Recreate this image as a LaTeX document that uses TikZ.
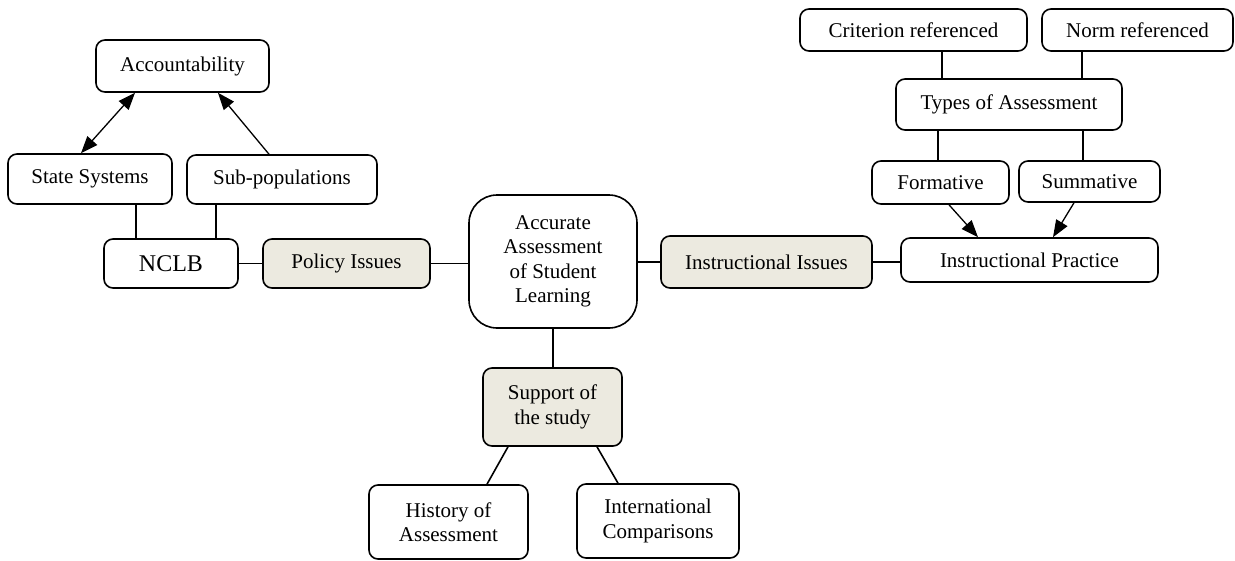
\documentclass[tikz,border=0pt]{standalone}
\usepackage{fontspec}
\setmainfont{Liberation Serif}
\usetikzlibrary{arrows.meta}

\definecolor{issuefill}{RGB}{236,234,224}

\begin{document}
\begin{tikzpicture}
		[
		x=1pt, y=-1pt, line width=1.6pt,
		font=\fontsize{21}{24.5}\selectfont,
		>={Triangle[length=17pt,width=13pt]},
		%Voreinstellung fuer Kaesten
		box/.style={draw, rounded corners=9pt, inner sep=0pt, align=center},
		issue/.style={box, fill=issuefill},
		link/.style={line width=1.6pt},
		pfeil/.style={line width=1.3pt}
		]
		
		%Rahmen des Bildes
		\useasboundingbox (0,0) rectangle (1235,560);
		
		%Mitte
		\node[box, rounded corners=28pt, minimum width=168pt, minimum height=133pt] (core) at (553,261.5) {Accurate\\Assessment\\of Student\\Learning};
		
		%Die drei Themen
		\node[issue, minimum width=167pt, minimum height=49pt] (policy) at (346.5,263.5) {Policy Issues};
		\node[issue, minimum width=211pt, minimum height=52pt] (instr) at (766.5,262) {Instructional Issues};
		\node[issue, minimum width=139pt, minimum height=78pt] (support) at (552.5,407) {Support of\\the study};
		
		%Linke Seite
		\node[box, minimum width=134pt, minimum height=49pt, font=\fontsize{24}{28}\selectfont] (nclb) at (171,263.5) {NCLB};
		\node[box, minimum width=164pt, minimum height=50pt] (state) at (90,179) {State Systems};
		\node[box, minimum width=190pt, minimum height=49pt] (subpop) at (282,179.5) {Sub-populations};
		\node[box, minimum width=173pt, minimum height=52pt] (acc) at (182.5,66) {Accountability};
		
		%Rechte Seite
		\node[box, minimum width=257pt, minimum height=44pt] (practice) at (1029.5,260) {Instructional Practice};
		\node[box, minimum width=137pt, minimum height=43pt] (form) at (940.5,182.5) {Formative};
		\node[box, minimum width=141pt, minimum height=41pt] (summ) at (1089.5,181.5) {Summative};
		\node[box, minimum width=226pt, minimum height=51pt] (types) at (1009,104.5) {Types of Assessment};
		\node[box, minimum width=227pt, minimum height=42pt] (crit) at (913.5,30) {Criterion referenced};
		\node[box, minimum width=191pt, minimum height=42pt] (norm) at (1137.5,30) {Norm referenced};
		
		%Unten
		\node[box, minimum width=159pt, minimum height=74pt] (history) at (448.5,522) {History of\\Assessment};
		\node[box, minimum width=162pt, minimum height=74pt] (intl) at (658,521) {International\\Comparisons};
		
		%Waagerechte Linien
		\draw[link] (nclb.east) -- (policy.west);
		\draw[link] (policy.east) -- (policy.east -| core.west);
		\draw[link] (instr.west -| core.east) -- (instr.west);
		\draw[link] (instr.east) -- (instr.east -| practice.west);
		
		%Linien links
		\draw[link] ([xshift=-35pt]nclb.north) -- ([xshift=-35pt]nclb.north |- state.south);
		\draw[link] ([xshift=45pt]nclb.north) -- ([xshift=45pt]nclb.north |- subpop.south);
		\draw[pfeil, <->] ([xshift=-9pt]state.north) -- ([xshift=-47.5pt]acc.south);
		\draw[pfeil, ->] ([xshift=-13pt]subpop.north) -- ([xshift=35.5pt]acc.south);
		
		%Linien rechts
		\draw[link] ([xshift=28.5pt]crit.south) -- ([xshift=28.5pt]crit.south |- types.north);
		\draw[link] ([xshift=-55.5pt]norm.south) -- ([xshift=-55.5pt]norm.south |- types.north);
		\draw[link] ([xshift=-2.5pt]form.north) -- ([xshift=-2.5pt]form.north |- types.south);
		\draw[link] ([xshift=-6.5pt]summ.north) -- ([xshift=-6.5pt]summ.north |- types.south);
		\draw[pfeil, ->] ([xshift=8.5pt]form.south) -- ([xshift=-51.5pt]practice.north);
		\draw[pfeil, ->] ([xshift=-15.5pt]summ.south) -- ([xshift=23.5pt]practice.north);
		
		%Linien unten
		\draw[link] (core.south) -- (core.south |- support.north);
		\draw[link] ([xshift=-44.5pt]support.south) -- ([xshift=38.5pt]history.north);
		\draw[link] ([xshift=44.5pt]support.south) -- ([xshift=-40pt]intl.north);
		
\end{tikzpicture}
\end{document}
